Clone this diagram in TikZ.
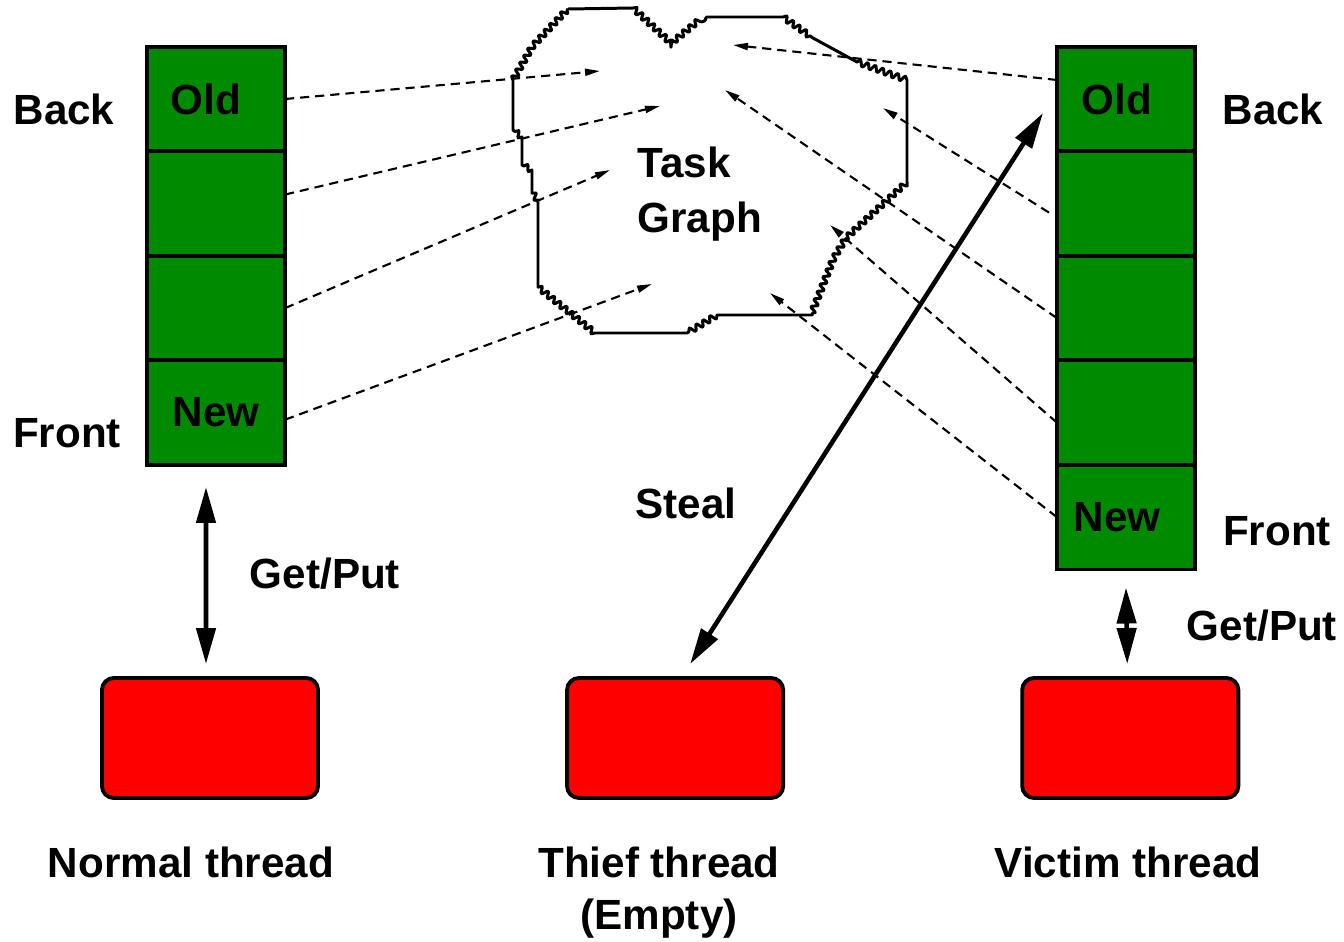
\documentclass[tikz,border=0pt]{standalone}
\usepackage{fontspec}
\setmainfont{Liberation Sans}
\usetikzlibrary{positioning, arrows.meta, decorations.pathmorphing}
\definecolor{qgreen}{RGB}{0,138,0}
\tikzstyle{cell} = [rectangle, minimum width=1.38cm, minimum height=1.045cm, inner sep=0pt, outer sep=0pt, draw=black, line width=1.1pt, fill=qgreen, font=\fontsize{12}{15}\selectfont\bfseries]
\tikzstyle{thread} = [rectangle, rounded corners=0.12cm, minimum width=2.16cm, minimum height=1.2cm, draw=black, line width=1.1pt, fill=red]
\tikzstyle{lbl} = [inner sep=0pt, font=\fontsize{12}{15}\selectfont\bfseries]
\tikzstyle{ptr} = [dash pattern=on 2.6pt off 1.7pt, line width=0.6pt, -{Triangle[length=0.15cm,width=0.07cm]}]
\tikzstyle{twoway} = [line width=1.3pt, {Triangle[length=0.36cm,width=0.19cm]}-{Triangle[length=0.36cm,width=0.19cm]}]
\begin{document}
\begin{tikzpicture}[x=0.01cm, y=-0.01cm]
\useasboundingbox (0,0) rectangle (1344,942);

% normal thread queue
\node (lq1) [cell] at (216,99) {\hspace*{-0.2cm}Old};
\node (lq2) [cell, below=0pt of lq1] {};
\node (lq3) [cell, below=0pt of lq2] {};
\node (lq4) [cell, below=0pt of lq3] {New};

% victim thread queue
\node (rq1) [cell] at (1126,99) {\hspace*{-0.18cm}Old};
\node (rq2) [cell, below=0pt of rq1] {};
\node (rq3) [cell, below=0pt of rq2] {};
\node (rq4) [cell, below=0pt of rq3] {};
\node (rq5) [cell, below=0pt of rq4] {\hspace*{-0.18cm}New};

\node (lback) [lbl, anchor=base] at (64,124) {Back};
\node (lfront) [lbl, anchor=base] at (67,447) {Front};
\node (rback) [lbl, anchor=base] at (1273,124) {Back};
\node (rfront) [lbl, anchor=base] at (1277,545) {Front};

% threads
\node (normal) [thread] at (210,738) {};
\node (thief) [thread, right=2.45cm of normal] {};
\node (victim) [thread, right=2.35cm of thief] {};

\node (normallbl) [lbl, anchor=base] at (191,877) {Normal thread};
\node (thieflbl) [lbl, anchor=north, align=center, font=\fontsize{12}{14.8}\selectfont\bfseries] at (659,846) {Thief thread\\(Empty)};
\node (victimlbl) [lbl, anchor=base] at (1128,877) {Victim thread};

% task graph
\draw [line width=0.85pt, line join=round, decoration={snake, segment length=0.08cm, amplitude=0.03cm}]
  (568,9) -- (633,8)
  decorate { -- (673,45) -- (707,17) }
  -- (783,17)
  decorate { -- (813,38) }
  -- (857,62)
  decorate { -- (907,80) }
  -- (907,182)
  decorate { -- (847,237) -- (835,257) -- (812,315) }
  -- (717,315)
  decorate { -- (687,333) }
  -- (595,333)
  decorate { -- (538,287) }
  -- (538,200)
  decorate { -- (532,193) }
  -- (532,170)
  decorate { -- (522,165) }
  -- (522,137)
  decorate { -- (513,130) }
  -- (513,80)
  decorate { -- (532,47) -- (568,9) };
\node (task) [lbl, anchor=north west, align=left, font=\fontsize{12}{15.6}\selectfont\bfseries] at (637,146) {Task\\Graph};

\coordinate (tl1) at (600,71);
\coordinate (tl2) at (660,106);
\coordinate (tl3) at (610,170);
\coordinate (tl4) at (652,284);
\coordinate (tr1) at (733,45);
\coordinate (tr2) at (883,108);
\coordinate (tr3) at (725,90);
\coordinate (tr4) at (830,225);
\coordinate (tr5) at (770,293);

\draw [ptr] (lq1.east) -- (tl1);
\draw [ptr] ([yshift=0.09cm]lq2.east) -- (tl2);
\draw [ptr] (lq3.east) -- (tl3);
\draw [ptr] ([yshift=-0.07cm]lq4.east) -- (tl4);

\draw [ptr] ([yshift=0.19cm]rq1.west) -- (tr1);
\draw [ptr] ([xshift=-0.08cm,yshift=-0.09cm]rq2.west) -- (tr2);
\draw [ptr] ([yshift=-0.1cm]rq3.west) -- (tr3);
\draw [ptr] ([yshift=-0.1cm]rq4.west) -- (tr4);
\draw [ptr] (rq5.west) -- (tr5);

% get/put and steal
\draw [twoway] ([xshift=-0.1cm,yshift=-0.22cm]lq4.south) -- ([xshift=-0.04cm,yshift=0.12cm]normal.north);
\draw [twoway] ([yshift=-0.18cm]rq5.south) -- ([xshift=-0.03cm,yshift=0.12cm]victim.north);
\coordinate (stealtop) at (1043,113);
\draw [twoway] (stealtop) -- ([xshift=0.15cm,yshift=0.12cm]thief.north);

\node (lgp) [lbl, anchor=base] at (325,588) {Get/Put};
\node (rgp) [lbl, anchor=base] at (1262,640) {Get/Put};
\node (steal) [lbl, anchor=base] at (686,518) {Steal};

\end{tikzpicture}
\end{document}
